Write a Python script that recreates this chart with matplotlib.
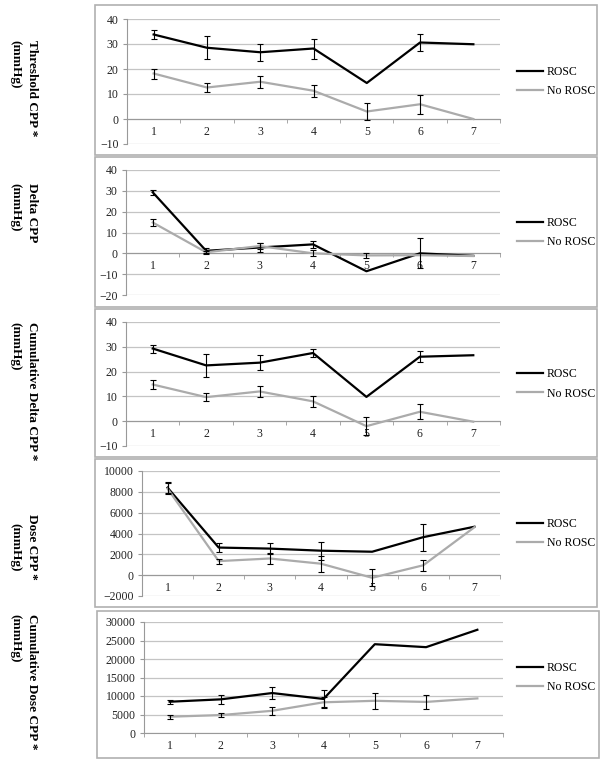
import numpy as np
import matplotlib
matplotlib.use('Agg')
import matplotlib.pyplot as plt
from matplotlib.patches import Rectangle

plt.rcParams['font.family'] = ['Liberation Serif', 'DejaVu Serif']

W, H = 604, 767
x = [1, 2, 3, 4, 5, 6, 7]
xlabels = ['1', '2', '3', '4', '5', '6', '7']
nan = np.nan

# panel 1: threshold CPP
thr_rosc = [33.8, 28.5, 26.7, 28.2, 14.4, 30.6, 29.9]
thr_rosc_err = [1.7, 4.6, 3.3, 4.0, nan, 3.5, nan]
thr_no = [18.2, 12.6, 14.9, 11.3, 3.0, 5.9, 0.0]
thr_no_err = [2.0, 1.8, 2.5, 2.4, 3.4, 3.9, nan]

# panel 2: delta CPP
dlt_rosc = [29.3, 1.2, 2.8, 4.3, -8.6, 0.0, -1.2]
dlt_rosc_err = [1.3, 1.2, 2.0, 1.6, nan, 7.2, nan]
dlt_no = [14.8, 0.5, 3.5, 0.0, -1.0, -0.9, -1.3]
dlt_no_err = [1.8, 0.8, 1.5, 1.5, 1.2, nan, nan]

# panel 3: cumulative delta CPP
cdl_rosc = [29.3, 22.5, 23.6, 27.5, 9.8, 26.0, 26.6]
cdl_rosc_err = [1.6, 4.6, 3.0, 1.6, nan, 2.3, nan]
cdl_no = [14.8, 9.7, 12.0, 8.0, -2.0, 3.8, -0.2]
cdl_no_err = [1.9, 1.7, 2.1, 2.3, 3.7, 3.0, nan]

# panel 4: dose CPP
dos_rosc = [8400, 2650, 2550, 2350, 2250, 3650, 4650]
dos_rosc_err = [500, 450, 500, 850, nan, 1300, nan]
dos_no = [8300, 1350, 1600, 1100, -250, 950, 4600]
dos_no_err = [550, 250, 550, 750, 800, 550, nan]

# panel 5: cumulative dose CPP
cds_rosc = [8450, 9100, 10800, 9200, 24000, 23200, 27900]
cds_rosc_err = [600, 1300, 1700, 2400, nan, nan, nan]
cds_no = [4400, 4850, 6000, 8300, 8700, 8400, 9350]
cds_no_err = [500, 550, 1100, 1400, 2100, 1900, nan]

panels = [
    # data, ylim, step, axes px (left, right, top, bottom), label, label y, align, box px
    (thr_rosc, thr_rosc_err, thr_no, thr_no_err, (-10, 40), 10,
     (127, 500, 19, 144), 'Threshold CPP *\n(mmHg)', 40, 'left', (95, 597, 5, 155)),
    (dlt_rosc, dlt_rosc_err, dlt_no, dlt_no_err, (-20, 40), 10,
     (126, 500, 170, 295), 'Delta CPP\n(mmHg)', 183, 'left', (95, 597, 157, 307)),
    (cdl_rosc, cdl_rosc_err, cdl_no, cdl_no_err, (-10, 40), 10,
     (126, 500, 322, 446), 'Cumulative Delta CPP *\n(mmHg)', 322, 'left', (95, 597, 309, 457)),
    (dos_rosc, dos_rosc_err, dos_no, dos_no_err, (-2000, 10000), 2000,
     (142, 500, 471, 596), 'Dose CPP *\n(mmHg)', 547, 'center', (95, 597, 459, 607)),
    (cds_rosc, cds_rosc_err, cds_no, cds_no_err, (0, 30000), 5000,
     (144, 503, 622, 733), 'Cumulative Dose CPP *\n(mmHg)', 614, 'left', (97, 599, 611, 758)),
]

fig = plt.figure(figsize=(W / 100, H / 100), dpi=100)

for (r, re, n, ne, ylim, step, (l, rgt, t, b), lab, ly, al, (bl, br, bt, bb)) in panels:
    # chart area border
    fig.patches.append(Rectangle((bl / W, 1 - bb / H), (br - bl) / W, (bb - bt) / H,
                                 transform=fig.transFigure, fill=False,
                                 edgecolor='#b0b0b0', linewidth=1.2))
    ax = fig.add_axes([l / W, 1 - b / H, (rgt - l) / W, (b - t) / H])
    ax.set_xlim(0.5, 7.5)
    ax.set_ylim(*ylim)
    ax.set_yticks(np.arange(ylim[0], ylim[1] + step, step))
    ax.grid(axis='y', color='#c4c4c4', linewidth=0.9)
    ax.set_axisbelow(True)
    for s in ['top', 'right']:
        ax.spines[s].set_visible(False)
    ax.spines['left'].set_color('#999999')
    ax.spines['bottom'].set_color('#999999')
    ax.spines['bottom'].set_position(('data', 0))
    ax.set_xticks(x)
    ax.set_xticklabels(xlabels)
    ax.set_xticks(np.arange(0.5, 8, 1), minor=True)
    ax.tick_params(axis='x', which='major', length=0, pad=5, labelsize=8.5, labelcolor='#222222')
    ax.tick_params(axis='x', which='minor', length=3, color='#999999', direction='out')
    ax.tick_params(axis='y', length=3, color='#999999', labelsize=8.5, labelcolor='#222222', pad=3)

    ax.plot(x, r, color='black', linewidth=1.6, label='ROSC', zorder=3)
    ax.plot(x, n, color='#ababab', linewidth=1.6, label='No ROSC', zorder=3)
    for vals, errs in [(r, re), (n, ne)]:
        v = np.array(vals, dtype=float)
        e = np.array(errs, dtype=float)
        m = np.isfinite(e)
        ax.errorbar(np.array(x)[m], v[m], yerr=e[m], fmt='none', ecolor='black',
                    elinewidth=0.8, capsize=2.5, capthick=0.8, zorder=4)

    ax.legend(loc='center left', bbox_to_anchor=((517 - l) / (rgt - l), 0.5),
              frameon=False, fontsize=8.5, handlelength=2.2, handletextpad=0.3,
              borderpad=0, borderaxespad=0, labelspacing=0.6)

    fig.text(24 / W, 1 - ly / H, lab, rotation=-90, ha='center',
             va='center' if al == 'center' else 'top', multialignment=al,
             fontsize=9.5, fontweight='bold', linespacing=1.5)

fig.savefig('out.png', dpi=100)
